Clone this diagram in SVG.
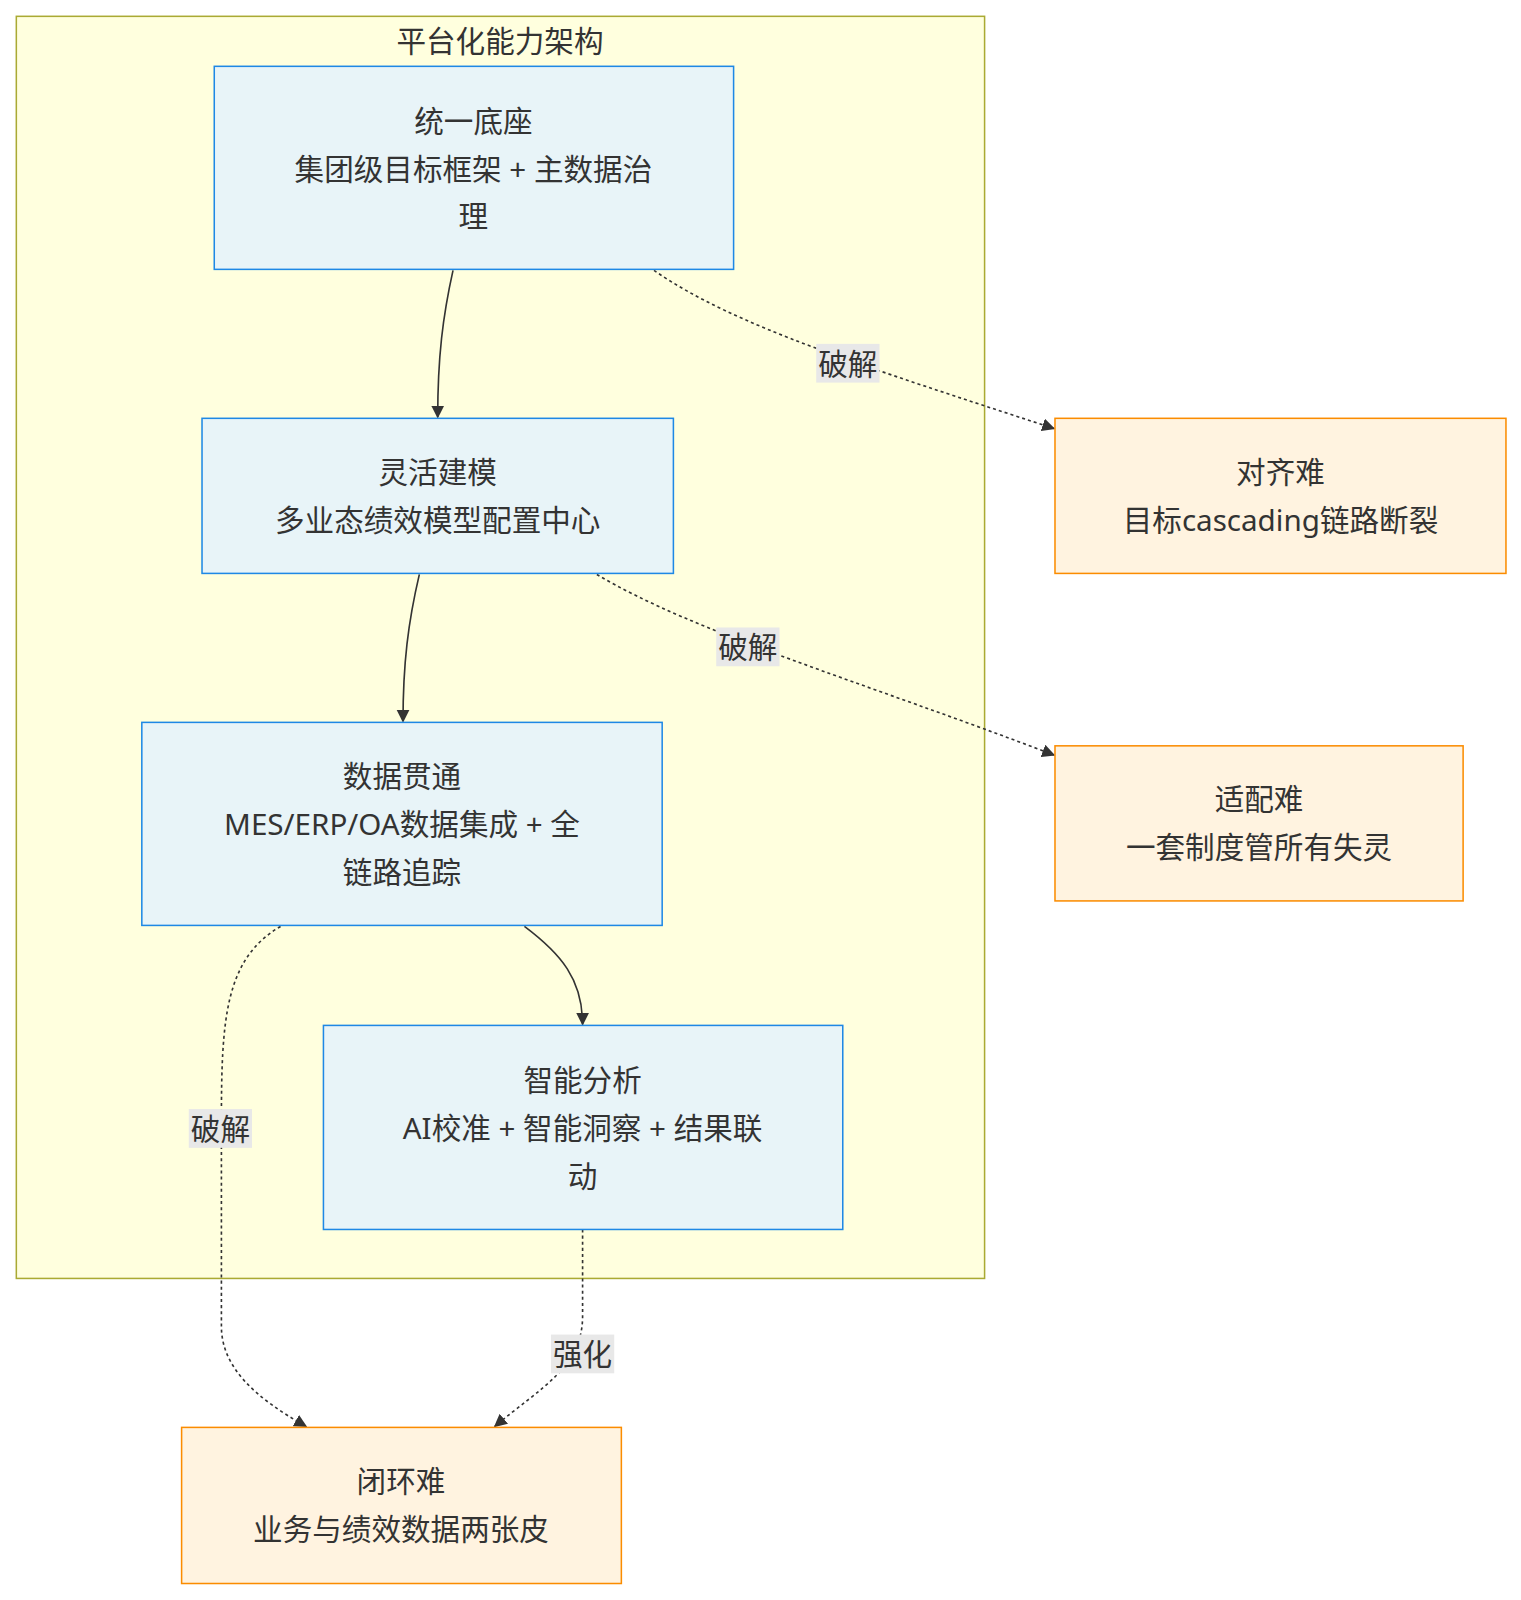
<svg xmlns="http://www.w3.org/2000/svg" width="1521" height="1600" viewBox="0 0 1521 1600">
<style>
text{font-family:"Noto Sans","Noto Sans CJK SC",sans-serif;font-size:29px;fill:#333;text-anchor:middle;dominant-baseline:central}
.n rect{fill:#e8f4f8;stroke:#1e88e5;stroke-width:1.5}
.p rect{fill:#fff3e0;stroke:#fb8c00;stroke-width:1.5}
.e path{fill:none;stroke:#333;stroke-width:1.6}
.d{stroke-dasharray:3,3}
.lb{fill:#e8e8e8}
</style>
<defs><marker id="a" viewBox="0 0 10 10" refX="9" refY="5" markerWidth="8" markerHeight="8" orient="auto"><path d="M0,0L10,5L0,10z" fill="#333"/></marker></defs>
<g transform="scale(1.0203)">
<g id="cluster"><rect x="16" y="16" width="949" height="1237" fill="#ffffde" stroke="#aaaa33" stroke-width="1.5"/><text x="490" y="40">平台化能力架构</text></g>
<g class="e" id="edges">
<path d="M444,265C434,310 429,350 429,409" marker-end="url(#a)"/>
<path d="M411,563C400,610 395,650 395,707" marker-end="url(#a)"/>
<path d="M514,908C550,935 571,960 571,1004" marker-end="url(#a)"/>
<path class="d" d="M641,265C720,320 850,360 1033,420" marker-end="url(#a)"/>
<path class="d" d="M585,563C680,620 850,670 1033,740" marker-end="url(#a)"/>
<path class="d" d="M275,908C220,940 217,1000 217,1100L217,1300C217,1340 250,1370 300,1398" marker-end="url(#a)"/>
<path class="d" d="M571,1205L571,1290C571,1340 530,1360 485,1398" marker-end="url(#a)"/>
</g>
<g id="labels">
<rect class="lb" x="800" y="337" width="62" height="38"/><text x="831" y="356">破解</text>
<rect class="lb" x="702" y="615" width="62" height="38"/><text x="733" y="634">破解</text>
<rect class="lb" x="185" y="1087" width="62" height="38"/><text x="216" y="1106">破解</text>
<rect class="lb" x="540" y="1308" width="62" height="38"/><text x="571" y="1327">强化</text>
</g>
<g id="A" class="n"><rect x="210" y="65" width="509" height="199"/><text x="464" y="118">统一底座</text><text x="464" y="165">集团级目标框架 + 主数据治</text><text x="464" y="211">理</text></g>
<g id="B" class="n"><rect x="198" y="410" width="462" height="152"/><text x="429" y="462">灵活建模</text><text x="429" y="509">多业态绩效模型配置中心</text></g>
<g id="C" class="n"><rect x="139" y="708" width="510" height="199"/><text x="394" y="760">数据贯通</text><text x="394" y="807">MES/ERP/OA数据集成 + 全</text><text x="394" y="854">链路追踪</text></g>
<g id="D" class="n"><rect x="317" y="1005" width="509" height="200"/><text x="571" y="1058">智能分析</text><text x="571" y="1105">AI校准 + 智能洞察 + 结果联</text><text x="571" y="1152">动</text></g>
<g id="R1" class="p"><rect x="1034" y="410" width="442" height="152"/><text x="1255" y="462">对齐难</text><text x="1255" y="509">目标cascading链路断裂</text></g>
<g id="R2" class="p"><rect x="1034" y="731" width="400" height="152"/><text x="1234" y="783">适配难</text><text x="1234" y="830">一套制度管所有失灵</text></g>
<g id="R3" class="p"><rect x="178" y="1399" width="431" height="153"/><text x="393" y="1451">闭环难</text><text x="393" y="1498">业务与绩效数据两张皮</text></g>
</g>
</svg>
